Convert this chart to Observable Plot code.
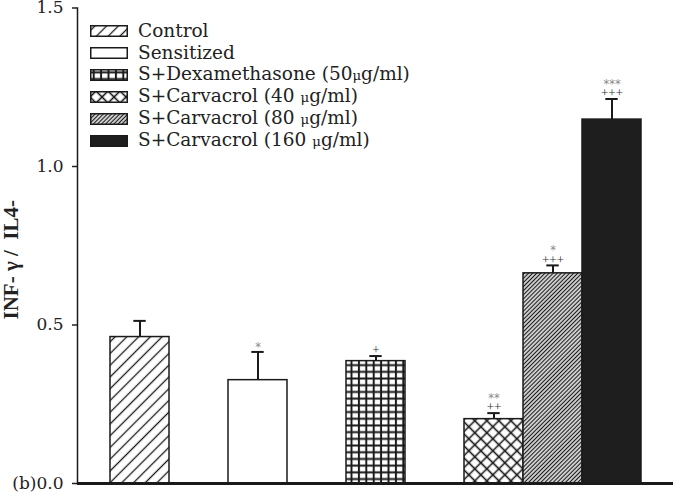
<!DOCTYPE html>
<html><head><meta charset="utf-8">
<script src="https://cdn.jsdelivr.net/npm/d3@7"></script>
<script src="https://cdn.jsdelivr.net/npm/@observablehq/plot@0.6"></script>
<style>
body{margin:0;background:#fff;}
#wrap{position:relative;width:673px;height:494px;overflow:hidden;}
#legend{position:absolute;left:90px;top:20px;font-family:"DejaVu Serif";font-size:18.5px;color:#222;line-height:22px;}
.row{display:flex;align-items:center;height:22px;white-space:nowrap;}
.row svg{margin-right:10px;flex:none;}
.mu{font-size:0.72em;}
</style></head><body><div id="wrap"></div>
<script>
// ---- data ----
const categories = ["Control", "Sensitized", "S+Dexamethasone (50μg/ml)", "S+Carvacrol (40 μg/ml)", "S+Carvacrol (80 μg/ml)", "S+Carvacrol (160 μg/ml)"];
const means = [0.462, 0.326, 0.386, 0.203, 0.663, 1.148];
const errors = [0.051, 0.089, 0.016, 0.019, 0.025, 0.065];
const starMarks = ["", "*", "", "**", "*", "***"];
const plusMarks = ["", "", "+", "++", "+++", "+++"];
const yTicks = [0, 0.5, 1.0, 1.5];
const yLabel = "INF- γ /  IL4-";
const panelLabel = "(b)";

const data = categories.map((c, i) => ({category: c, mean: means[i], err: errors[i], stars: starMarks[i], plus: plusMarks[i]}));
const fills = ["url(#pHatch)", "white", "url(#pGrid)", "url(#pCross)", "url(#pDense)", "#1e1e1e"];
const xDomain = [categories[0], "gap-a", categories[1], "gap-b", categories[2], "gap-c", categories[3], categories[4], categories[5]];
const ink = "#1a1a1a";

const plot = Plot.plot({
  width: 673, height: 494,
  marginLeft: 77, marginRight: 0, marginTop: 7.5, marginBottom: 11,
  x: {type: "band", domain: xDomain, paddingInner: 0, paddingOuter: 0.5, axis: null},
  y: {domain: [0, 1.5]},
  color: {domain: categories, range: fills},
  style: {fontFamily: "DejaVu Serif", background: "white", color: "#222", overflow: "visible"},
  marks: [
    Plot.barY(data, {x: "category", y: "mean", fill: "category", stroke: ink, strokeWidth: 1.5}),
    Plot.ruleX(data, {x: "category", y1: "mean", y2: d => d.mean + d.err, stroke: ink, strokeWidth: 2}),
    Plot.tickY(data, {x: "category", y: d => d.mean + d.err, inset: 23.3, stroke: ink, strokeWidth: 2}),
    Plot.text(data.filter(d => d.plus), {x: "category", y: d => d.mean + d.err, text: "plus", dy: -6, fontSize: 13, fontFamily: "Liberation Serif", fill: "#333"}),
    Plot.text(data.filter(d => d.stars && d.plus), {x: "category", y: d => d.mean + d.err, text: "stars", dy: -15, fontSize: 11.5, fontFamily: "DejaVu Sans", fill: "#8a8a8a"}),
    Plot.text(data.filter(d => d.stars && !d.plus), {x: "category", y: d => d.mean + d.err, text: "stars", dy: -5, fontSize: 11.5, fontFamily: "DejaVu Sans", fill: "#8a8a8a"}),
    Plot.axisY({ticks: yTicks, tickSize: 5, tickPadding: 9, strokeWidth: 1.5, fontSize: 17, label: null,
      tickFormat: d => d === 0 ? panelLabel + "0.0" : d.toFixed(1)}),
    Plot.frame({anchor: "left", stroke: ink, strokeWidth: 1.5}),
    Plot.ruleY([0], {stroke: ink, strokeWidth: 3}),
    Plot.text([yLabel], {frameAnchor: "left", textAnchor: "middle", rotate: -90, dx: -66, dy: 14, fontWeight: "bold", fontFamily: "Liberation Serif", fontSize: 21, fill: "#222"})
  ]
});

// pattern definitions
const defs = d3.select(plot).insert("defs", ":first-child");
function hatch(id, size, sw, angle) {
  const p = defs.append("pattern").attr("id", id).attr("patternUnits", "userSpaceOnUse")
    .attr("width", size).attr("height", size).attr("patternTransform", `rotate(${angle})`);
  p.append("rect").attr("width", size).attr("height", size).attr("fill", "white");
  p.append("line").attr("x1", size / 2).attr("x2", size / 2).attr("y1", 0).attr("y2", size).attr("stroke", ink).attr("stroke-width", sw);
}
function grid(id, w, h, sw, angle) {
  const p = defs.append("pattern").attr("id", id).attr("patternUnits", "userSpaceOnUse")
    .attr("width", w).attr("height", h).attr("patternTransform", `rotate(${angle})`);
  p.append("rect").attr("width", w).attr("height", h).attr("fill", "white");
  p.append("line").attr("x1", w / 2).attr("x2", w / 2).attr("y1", 0).attr("y2", h).attr("stroke", ink).attr("stroke-width", sw);
  p.append("line").attr("y1", h / 2).attr("y2", h / 2).attr("x1", 0).attr("x2", w).attr("stroke", ink).attr("stroke-width", sw);
}
hatch("pHatch", 8.3, 1.3, 45);
hatch("pDense", 2.9, 1.4, 45);
grid("pGrid", 7.4, 6.7, 2, 0);
grid("pCross", 8.5, 8.5, 1.6, 45);

const wrap = document.getElementById("wrap");
wrap.appendChild(plot);

// legend (HTML overlay inside the plot frame)
const legend = d3.select(wrap).append("div").attr("id", "legend");
categories.forEach((c, i) => {
  const row = legend.append("div").attr("class", "row");
  const sw = row.append("svg").attr("width", 38).attr("height", 12);
  sw.append("rect").attr("x", 0.75).attr("y", 0.75).attr("width", 36.5).attr("height", 10.5)
    .attr("fill", fills[i]).attr("stroke", ink).attr("stroke-width", 1.5);
  const span = row.append("span");
  const parts = c.split("μ");
  span.append("span").text(parts[0]);
  if (parts.length > 1) {
    span.append("span").attr("class", "mu").text("μ");
    span.append("span").text(parts[1]);
  }
});
</script>
</body></html>
